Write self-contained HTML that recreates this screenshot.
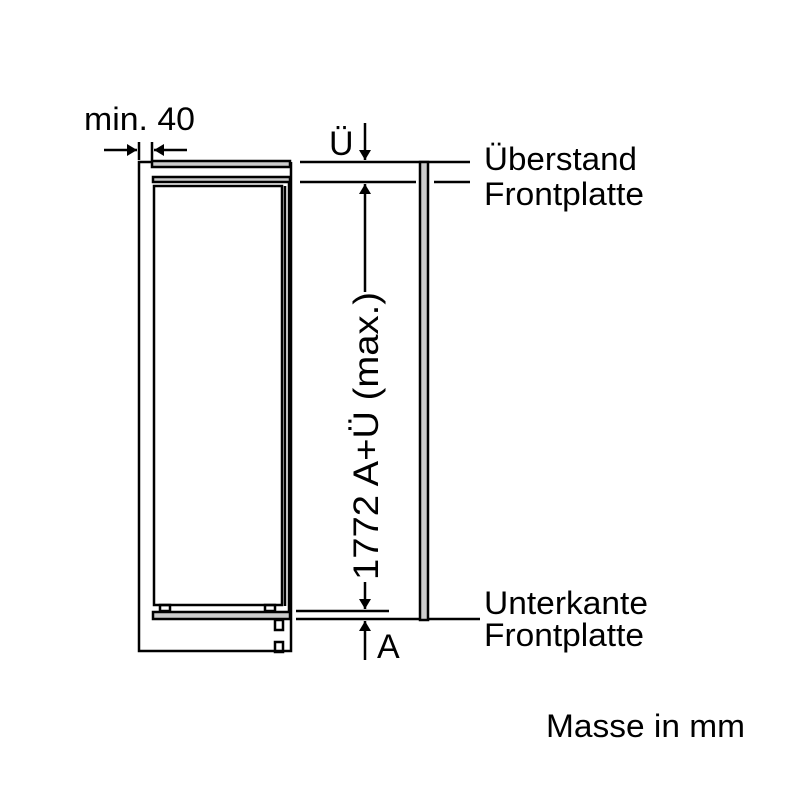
<!DOCTYPE html>
<html><head><style>html,body{margin:0;padding:0;background:#fff}svg{display:block}</style></head><body>
<svg width="800" height="786" viewBox="0 0 800 786" xmlns="http://www.w3.org/2000/svg" font-family="Liberation Sans, sans-serif">
<defs><marker id="ah" markerWidth="10" markerHeight="12" refX="10" refY="6" orient="auto" markerUnits="userSpaceOnUse"><path d="M0,0 L10,6 L0,12 z" fill="#000"/></marker></defs>
<g stroke="#000" stroke-width="2.5" fill="none">
<path d="M152,162 H139 V651 H291 V162"/>
<rect x="152" y="161" width="138" height="6" fill="#ccc"/>
<rect x="153" y="177" width="137" height="5" fill="#ccc"/>
<rect x="154" y="186" width="128" height="419"/>
<path d="M285,186 V606 M289,182 V612"/>
<rect x="160" y="605" width="10" height="6"/>
<rect x="265" y="605" width="10" height="6"/>
<rect x="153" y="612" width="137" height="7" fill="#ccc"/>
<rect x="275" y="620" width="8" height="10"/>
<rect x="275" y="642" width="8" height="10"/>
<path d="M139,142 V160 M152,142 V160"/>
<path d="M104,150 H137" marker-end="url(#ah)"/>
<path d="M187,150 H154" marker-end="url(#ah)"/>
<path d="M300,162 H470 M300,182 H416 M434,182 H470 M296,611 H389 M296,619 H480"/>
<rect x="420" y="162" width="8" height="458" fill="#ccc"/>
<path d="M365,123 V160" marker-end="url(#ah)"/>
<path d="M365,292 V184" marker-end="url(#ah)"/>
<path d="M365,582 V609" marker-end="url(#ah)"/>
<path d="M365,660 V621" marker-end="url(#ah)"/>
</g>
<g font-size="32" fill="#000">
<text x="84" y="130" textLength="111" lengthAdjust="spacingAndGlyphs">min. 40</text>
<text x="329" y="155" font-size="34">Ü</text>
<text x="484" y="170" textLength="153" lengthAdjust="spacingAndGlyphs">Überstand</text>
<text x="484" y="205" textLength="160" lengthAdjust="spacingAndGlyphs">Frontplatte</text>
<text x="484" y="614" textLength="164" lengthAdjust="spacingAndGlyphs">Unterkante</text>
<text x="484" y="646" textLength="160" lengthAdjust="spacingAndGlyphs">Frontplatte</text>
<text x="377" y="658" font-size="34">A</text>
<text x="546" y="737" textLength="199" lengthAdjust="spacingAndGlyphs">Masse in mm</text>
<text transform="translate(378,436) rotate(-90)" text-anchor="middle" font-size="35" textLength="288" lengthAdjust="spacingAndGlyphs">1772 A+Ü (max.)</text>
</g>
</svg>
</body></html>
